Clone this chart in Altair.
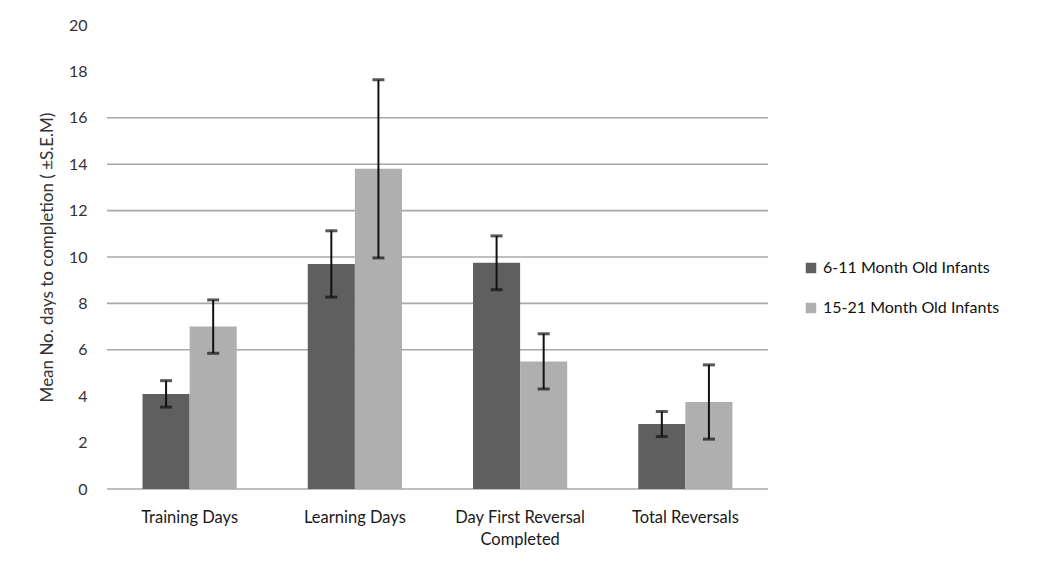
import altair as alt
import pandas as pd

categories = ["Training Days", "Learning Days", "Day First Reversal\nCompleted", "Total Reversals"]
series = ["6-11 Month Old Infants", "15-21 Month Old Infants"]
young_mean = [4.1, 9.7, 9.75, 2.8]
young_sem = [0.57, 1.43, 1.16, 0.54]
old_mean = [7.0, 13.8, 5.5, 3.75]
old_sem = [1.15, 3.84, 1.19, 1.6]
grid_values = [0, 6, 8, 10, 12, 14, 16]
y_ticks = [0, 2, 4, 6, 8, 10, 12, 14, 16, 18, 20]
colors = ["#5f5f5f", "#afafaf"]

rows = []
for i, c in enumerate(categories):
    rows.append({"cat": c, "group": series[0], "mean": young_mean[i],
                 "lo": young_mean[i] - young_sem[i], "hi": young_mean[i] + young_sem[i]})
    rows.append({"cat": c, "group": series[1], "mean": old_mean[i],
                 "lo": old_mean[i] - old_sem[i], "hi": old_mean[i] + old_sem[i]})
df = pd.DataFrame(rows)
grid_df = pd.DataFrame({"v": grid_values})

FONT = "Lato"

x_enc = alt.X("cat:N", sort=categories, title=None,
              scale=alt.Scale(paddingInner=0.43, paddingOuter=0.215),
              axis=alt.Axis(labelAngle=0, ticks=False, domain=False, labelFontSize=16.5,
                            labelFont=FONT, labelColor="#1a1a1a", labelPadding=20,
                            labelExpr="split(datum.label, '\\n')", labelLineHeight=22))
xo = alt.XOffset("group:N", sort=series, scale=alt.Scale(paddingInner=0.0))
y_scale = alt.Scale(domain=[0, 20], nice=False)

grid = alt.Chart(grid_df).mark_rule(color="#a8a8a8", strokeWidth=1.6).encode(
    y=alt.Y("v:Q", scale=y_scale)
)

bars = alt.Chart(df).mark_bar().encode(
    x=x_enc,
    xOffset=xo,
    y=alt.Y("mean:Q", scale=y_scale,
            title="Mean No. days to completion ( \u00b1S.E.M)",
            axis=alt.Axis(values=y_ticks, grid=False, ticks=False, domain=False,
                          labelFontSize=16, labelFont=FONT, labelColor="#333333",
                          labelPadding=20, titleFont=FONT, titleFontSize=17,
                          titleFontWeight="normal", titleColor="#333333", titlePadding=12)),
    color=alt.Color("group:N", sort=series,
                    scale=alt.Scale(domain=series, range=colors),
                    legend=alt.Legend(title=None, orient="none", legendX=696, legendY=235,
                                      symbolType="square", symbolSize=110, symbolStrokeWidth=0,
                                      labelFont=FONT, labelFontSize=16, labelColor="#111111",
                                      labelLimit=400, rowPadding=24, symbolOffset=0)),
)

err = alt.Chart(df).mark_rule(color="#111111", strokeWidth=2).encode(
    x=alt.X("cat:N", sort=categories),
    xOffset=xo,
    y=alt.Y("lo:Q", scale=y_scale),
    y2="hi:Q",
)
cap_hi = alt.Chart(df).mark_tick(color="#111111", thickness=3, size=12).encode(
    x=alt.X("cat:N", sort=categories),
    xOffset=xo,
    y=alt.Y("hi:Q", scale=y_scale),
)
cap_lo = alt.Chart(df).mark_tick(color="#111111", thickness=3, size=12).encode(
    x=alt.X("cat:N", sort=categories),
    xOffset=xo,
    y=alt.Y("lo:Q", scale=y_scale),
)

chart = alt.layer(grid, bars, err, cap_hi, cap_lo).properties(
    width=661, height=464,
    autosize=alt.AutoSizeParams(type="none"),
    padding={"left": 99, "top": 17, "right": 274, "bottom": 79},
).configure(background="white").configure_view(stroke=None, strokeWidth=0)

chart.save("out.html", embed_options={"renderer": "svg", "actions": False})
